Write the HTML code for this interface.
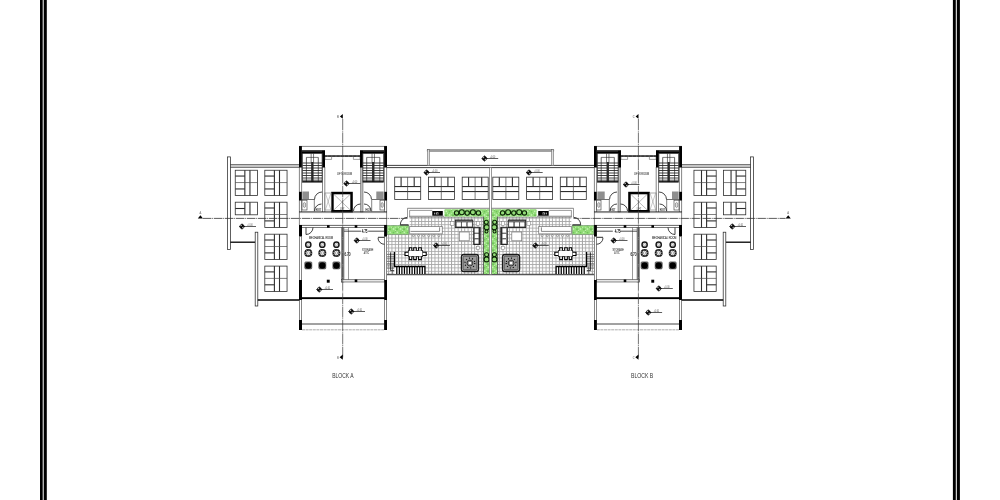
<!DOCTYPE html><html><head><meta charset="utf-8"><style>html,body{margin:0;padding:0;background:#fff}svg{display:block}text{font-family:"Liberation Sans",sans-serif}</style></head><body>
<svg width="1000" height="500" viewBox="0 0 1000 500">
<defs>
<pattern id="tile" x="427.9" y="217.7" width="3.31" height="3.32" patternUnits="userSpaceOnUse"><rect width="3.31" height="3.32" fill="#fff"/><path d="M0,0.45 H3.31 M0.45,0 V3.32" stroke="#a6a6a6" stroke-width="0.95" fill="none"/></pattern>
<pattern id="grn" x="0" y="0" width="7" height="7" patternUnits="userSpaceOnUse"><rect width="7" height="7" fill="#93dc78"/><circle cx="1.5" cy="1.6" r="0.9" fill="#6fc45c"/><circle cx="5" cy="5.2" r="1.0" fill="#6cc058"/><circle cx="5.3" cy="1.4" r="0.8" fill="#c2f4b2"/><circle cx="1.6" cy="5" r="0.9" fill="#bdf2ac"/><circle cx="3.4" cy="3.4" r="0.7" fill="#aeeca0"/><circle cx="3.3" cy="0.3" r="0.45" fill="#58ac48"/><circle cx="0.2" cy="3.4" r="0.45" fill="#58ac48"/><circle cx="3.5" cy="6.6" r="0.45" fill="#eaffe4"/><circle cx="6.7" cy="3.2" r="0.45" fill="#eaffe4"/></pattern>
<filter id="gs" x="0" y="0" width="1000" height="500" filterUnits="userSpaceOnUse" color-interpolation-filters="sRGB"><feColorMatrix type="saturate" values="0"/></filter>
<g id="A"><rect x="227.40" y="156.90" width="3.00" height="92.60" fill="#fff" stroke="#2a2a2a" stroke-width="0.75" />
<line x1="230.4" y1="164.8" x2="299" y2="164.8" stroke="#2a2a2a" stroke-width="0.9" />
<line x1="230.4" y1="167.2" x2="299" y2="167.2" stroke="#2a2a2a" stroke-width="0.9" />
<rect x="235.25" y="170.25" width="22.25" height="25.30" fill="#fff" stroke="#2e2e2e" stroke-width="0.8" /><line x1="244.85" y1="170.25" x2="244.85" y2="195.55" stroke="#2e2e2e" stroke-width="1.1" /><line x1="249.95" y1="170.25" x2="249.95" y2="195.55" stroke="#2e2e2e" stroke-width="1.1" /><line x1="235.25" y1="176.05" x2="244.85" y2="176.05" stroke="#2e2e2e" stroke-width="1.1" /><line x1="235.25" y1="182.55" x2="257.5" y2="182.55" stroke="#4a4a4a" stroke-width="0.7" /><line x1="235.25" y1="188.95" x2="244.85" y2="188.95" stroke="#2e2e2e" stroke-width="1.1" />
<rect x="264.80" y="170.25" width="22.25" height="25.30" fill="#fff" stroke="#2e2e2e" stroke-width="0.8" /><line x1="274.40000000000003" y1="170.25" x2="274.40000000000003" y2="195.55" stroke="#2e2e2e" stroke-width="1.1" /><line x1="279.5" y1="170.25" x2="279.5" y2="195.55" stroke="#2e2e2e" stroke-width="1.1" /><line x1="264.8" y1="176.05" x2="274.40000000000003" y2="176.05" stroke="#2e2e2e" stroke-width="1.1" /><line x1="264.8" y1="182.55" x2="287.05" y2="182.55" stroke="#4a4a4a" stroke-width="0.7" /><line x1="264.8" y1="188.95" x2="274.40000000000003" y2="188.95" stroke="#2e2e2e" stroke-width="1.1" />
<rect x="235.25" y="202.20" width="22.25" height="12.60" fill="#fff" stroke="#2e2e2e" stroke-width="0.8" /><line x1="244.85" y1="202.2" x2="244.85" y2="214.79999999999998" stroke="#2e2e2e" stroke-width="1.1" /><line x1="249.95" y1="202.2" x2="249.95" y2="214.79999999999998" stroke="#2e2e2e" stroke-width="1.1" /><line x1="235.25" y1="208.5" x2="244.85" y2="208.5" stroke="#2e2e2e" stroke-width="1.1" />
<rect x="264.80" y="202.20" width="22.25" height="25.30" fill="#fff" stroke="#2e2e2e" stroke-width="0.8" /><line x1="274.40000000000003" y1="202.2" x2="274.40000000000003" y2="227.5" stroke="#2e2e2e" stroke-width="1.1" /><line x1="279.5" y1="202.2" x2="279.5" y2="227.5" stroke="#2e2e2e" stroke-width="1.1" /><line x1="264.8" y1="208.0" x2="274.40000000000003" y2="208.0" stroke="#2e2e2e" stroke-width="1.1" /><line x1="264.8" y1="214.5" x2="287.05" y2="214.5" stroke="#4a4a4a" stroke-width="0.7" /><line x1="264.8" y1="220.89999999999998" x2="274.40000000000003" y2="220.89999999999998" stroke="#2e2e2e" stroke-width="1.1" />
<rect x="264.80" y="234.20" width="22.25" height="25.30" fill="#fff" stroke="#2e2e2e" stroke-width="0.8" /><line x1="274.40000000000003" y1="234.2" x2="274.40000000000003" y2="259.5" stroke="#2e2e2e" stroke-width="1.1" /><line x1="279.5" y1="234.2" x2="279.5" y2="259.5" stroke="#2e2e2e" stroke-width="1.1" /><line x1="264.8" y1="240.0" x2="274.40000000000003" y2="240.0" stroke="#2e2e2e" stroke-width="1.1" /><line x1="264.8" y1="246.5" x2="287.05" y2="246.5" stroke="#4a4a4a" stroke-width="0.7" /><line x1="264.8" y1="252.89999999999998" x2="274.40000000000003" y2="252.89999999999998" stroke="#2e2e2e" stroke-width="1.1" />
<rect x="264.80" y="266.10" width="22.25" height="25.30" fill="#fff" stroke="#2e2e2e" stroke-width="0.8" /><line x1="274.40000000000003" y1="266.1" x2="274.40000000000003" y2="291.40000000000003" stroke="#2e2e2e" stroke-width="1.1" /><line x1="279.5" y1="266.1" x2="279.5" y2="291.40000000000003" stroke="#2e2e2e" stroke-width="1.1" /><line x1="264.8" y1="271.90000000000003" x2="274.40000000000003" y2="271.90000000000003" stroke="#2e2e2e" stroke-width="1.1" /><line x1="264.8" y1="278.40000000000003" x2="287.05" y2="278.40000000000003" stroke="#4a4a4a" stroke-width="0.7" /><line x1="264.8" y1="284.8" x2="274.40000000000003" y2="284.8" stroke="#2e2e2e" stroke-width="1.1" />
<line x1="230.4" y1="242.2" x2="255.3" y2="242.2" stroke="#000" stroke-width="1.3" />
<rect x="255.20" y="232.20" width="2.60" height="73.80" fill="#fff" stroke="#2a2a2a" stroke-width="0.75" />
<line x1="257.8" y1="300" x2="299.5" y2="300" stroke="#000" stroke-width="1.4" />
<line x1="299" y1="146.4" x2="387" y2="146.4" stroke="#333" stroke-width="0.6" />
<line x1="299.4" y1="167" x2="299.4" y2="212" stroke="#333" stroke-width="0.6" />
<line x1="301.6" y1="167" x2="301.6" y2="212" stroke="#333" stroke-width="0.6" />
<line x1="322.5" y1="167" x2="322.5" y2="212" stroke="#333" stroke-width="0.6" />
<line x1="324.8" y1="167" x2="324.8" y2="212" stroke="#333" stroke-width="0.6" />
<line x1="384.4" y1="167" x2="384.4" y2="212" stroke="#333" stroke-width="0.6" />
<line x1="386.6" y1="167" x2="386.6" y2="212" stroke="#333" stroke-width="0.6" />
<rect x="360.50" y="167.00" width="2.50" height="45.00" fill="#bbb" stroke="#555" stroke-width="0.5" />
<rect x="299.00" y="146.10" width="2.90" height="21.40" fill="#000" stroke="none" stroke-width="0.6" />
<rect x="384.10" y="146.10" width="2.90" height="21.40" fill="#000" stroke="none" stroke-width="0.6" />
<rect x="301.80" y="150.20" width="23.20" height="3.30" fill="#000" stroke="none" stroke-width="0.6" />
<rect x="301.90" y="150.20" width="20.20" height="1.30" fill="#4a4a4a" stroke="none" stroke-width="0.6" />
<rect x="360.00" y="150.20" width="24.20" height="3.30" fill="#000" stroke="none" stroke-width="0.6" />
<rect x="362.90" y="150.20" width="21.20" height="1.30" fill="#4a4a4a" stroke="none" stroke-width="0.6" />
<rect x="322.10" y="151.00" width="2.90" height="16.50" fill="#000" stroke="none" stroke-width="0.6" />
<rect x="360.00" y="151.00" width="2.90" height="16.50" fill="#000" stroke="none" stroke-width="0.6" />
<rect x="299.00" y="191.80" width="2.70" height="8.70" fill="#000" stroke="none" stroke-width="0.6" />
<rect x="384.40" y="191.80" width="2.60" height="8.70" fill="#000" stroke="none" stroke-width="0.6" />
<rect x="302.60" y="153.50" width="19.50" height="28.70" fill="#fff" stroke="#222" stroke-width="0.7" /><line x1="302.6" y1="163" x2="322.1" y2="163" stroke="#111" stroke-width="0.8" /><line x1="302.6" y1="165.5" x2="322.1" y2="165.5" stroke="#111" stroke-width="0.8" /><line x1="302.6" y1="168" x2="322.1" y2="168" stroke="#111" stroke-width="0.8" /><line x1="302.6" y1="170.5" x2="322.1" y2="170.5" stroke="#111" stroke-width="0.8" /><line x1="302.6" y1="173" x2="322.1" y2="173" stroke="#111" stroke-width="0.8" /><line x1="302.6" y1="175.5" x2="322.1" y2="175.5" stroke="#111" stroke-width="0.8" /><line x1="302.6" y1="178" x2="322.1" y2="178" stroke="#111" stroke-width="0.8" /><line x1="302.6" y1="180.2" x2="322.1" y2="180.2" stroke="#111" stroke-width="0.8" /><line x1="306.40000000000003" y1="157.4" x2="318.3" y2="157.4" stroke="#222" stroke-width="0.6" /><line x1="306.40000000000003" y1="157.4" x2="306.40000000000003" y2="182" stroke="#222" stroke-width="0.7" /><line x1="318.3" y1="157.4" x2="318.3" y2="182" stroke="#222" stroke-width="0.7" /><line x1="311.15000000000003" y1="153.5" x2="311.15000000000003" y2="162.5" stroke="#222" stroke-width="0.6" /><line x1="313.55" y1="153.5" x2="313.55" y2="162.5" stroke="#222" stroke-width="0.6" /><rect x="311.15" y="162.00" width="2.40" height="20.00" fill="#2a2a2a" stroke="none" stroke-width="0.6" /><line x1="302.6" y1="181.6" x2="322.1" y2="181.6" stroke="#111" stroke-width="1.0" />
<rect x="362.90" y="153.50" width="20.70" height="28.70" fill="#fff" stroke="#222" stroke-width="0.7" /><line x1="362.9" y1="163" x2="383.6" y2="163" stroke="#111" stroke-width="0.8" /><line x1="362.9" y1="165.5" x2="383.6" y2="165.5" stroke="#111" stroke-width="0.8" /><line x1="362.9" y1="168" x2="383.6" y2="168" stroke="#111" stroke-width="0.8" /><line x1="362.9" y1="170.5" x2="383.6" y2="170.5" stroke="#111" stroke-width="0.8" /><line x1="362.9" y1="173" x2="383.6" y2="173" stroke="#111" stroke-width="0.8" /><line x1="362.9" y1="175.5" x2="383.6" y2="175.5" stroke="#111" stroke-width="0.8" /><line x1="362.9" y1="178" x2="383.6" y2="178" stroke="#111" stroke-width="0.8" /><line x1="362.9" y1="180.2" x2="383.6" y2="180.2" stroke="#111" stroke-width="0.8" /><line x1="366.7" y1="157.4" x2="379.8" y2="157.4" stroke="#222" stroke-width="0.6" /><line x1="366.7" y1="157.4" x2="366.7" y2="182" stroke="#222" stroke-width="0.7" /><line x1="379.8" y1="157.4" x2="379.8" y2="182" stroke="#222" stroke-width="0.7" /><line x1="372.05" y1="153.5" x2="372.05" y2="162.5" stroke="#222" stroke-width="0.6" /><line x1="374.45" y1="153.5" x2="374.45" y2="162.5" stroke="#222" stroke-width="0.6" /><rect x="372.05" y="162.00" width="2.40" height="20.00" fill="#2a2a2a" stroke="none" stroke-width="0.6" /><line x1="362.9" y1="181.6" x2="383.6" y2="181.6" stroke="#111" stroke-width="1.0" />
<rect x="325.00" y="155.20" width="35.00" height="1.70" fill="#2a2a2a" stroke="none" stroke-width="0.6" />
<rect x="327.00" y="155.70" width="1.20" height="0.60" fill="#999" stroke="none" stroke-width="0.6" />
<rect x="331.20" y="155.70" width="1.20" height="0.60" fill="#999" stroke="none" stroke-width="0.6" />
<rect x="335.40" y="155.70" width="1.20" height="0.60" fill="#999" stroke="none" stroke-width="0.6" />
<rect x="339.60" y="155.70" width="1.20" height="0.60" fill="#999" stroke="none" stroke-width="0.6" />
<rect x="343.80" y="155.70" width="1.20" height="0.60" fill="#999" stroke="none" stroke-width="0.6" />
<rect x="348.00" y="155.70" width="1.20" height="0.60" fill="#999" stroke="none" stroke-width="0.6" />
<rect x="352.20" y="155.70" width="1.20" height="0.60" fill="#999" stroke="none" stroke-width="0.6" />
<rect x="356.40" y="155.70" width="1.20" height="0.60" fill="#999" stroke="none" stroke-width="0.6" />
<path d="M325,156.9 V159.4 H331.6 V156.9" stroke="#444" stroke-width="0.5" fill="none"/>
<path d="M353.4,156.9 V159.4 H360 V156.9" stroke="#444" stroke-width="0.5" fill="none"/>
<rect x="332.45" y="193.05" width="19.10" height="18.20" fill="#fff" stroke="#000" stroke-width="2.5" />
<line x1="334" y1="194.5" x2="350" y2="209.8" stroke="#666" stroke-width="0.45" />
<line x1="350" y1="194.5" x2="334" y2="209.8" stroke="#666" stroke-width="0.45" />
<rect x="325.00" y="193.00" width="6.20" height="17.00" fill="#fff" stroke="#555" stroke-width="0.5" />
<line x1="325.5" y1="193.5" x2="330.8" y2="209.5" stroke="#777" stroke-width="0.4" />
<line x1="330.8" y1="193.5" x2="325.5" y2="209.5" stroke="#777" stroke-width="0.4" />
<line x1="299" y1="211.7" x2="387" y2="211.7" stroke="#222" stroke-width="0.7" />
<line x1="299" y1="212.6" x2="387" y2="212.6" stroke="#444" stroke-width="0.5" />
<rect x="302.40" y="191.50" width="6.60" height="7.50" fill="#8f8f8f" stroke="none" stroke-width="0.6" />
<rect x="376.30" y="191.50" width="7.30" height="7.50" fill="#8f8f8f" stroke="none" stroke-width="0.6" />
<rect x="302.00" y="200.20" width="5.00" height="9.80" fill="#fff" stroke="#333" stroke-width="0.6" />
<ellipse cx="304.4" cy="205" rx="1.3" ry="2.6" fill="#ddd" stroke="#555" stroke-width="0.5"/>
<rect x="380.00" y="200.20" width="4.30" height="9.80" fill="#fff" stroke="#333" stroke-width="0.6" />
<ellipse cx="382.2" cy="205" rx="1.2" ry="2.6" fill="#ddd" stroke="#555" stroke-width="0.5"/>
<line x1="302" y1="199.5" x2="314.5" y2="199.5" stroke="#333" stroke-width="0.7" />
<line x1="372" y1="199.5" x2="384" y2="199.5" stroke="#333" stroke-width="0.7" />
<line x1="314.3" y1="199.5" x2="314.3" y2="211.5" stroke="#333" stroke-width="0.6" />
<line x1="371.7" y1="199.5" x2="371.7" y2="211.5" stroke="#333" stroke-width="0.6" />
<path d="M322,192 A7.5,7.5 0 0 0 314.5,199.5" stroke="#222" stroke-width="0.85" fill="none"/>
<path d="M321.5,204 A7,7 0 0 0 314.5,211" stroke="#222" stroke-width="0.85" fill="none"/>
<path d="M360.5,204 A7,7 0 0 0 353.5,211" stroke="#222" stroke-width="0.85" fill="none"/>
<path d="M364,192 A7.5,7.5 0 0 1 371.5,199.5" stroke="#222" stroke-width="0.85" fill="none"/>
<path d="M364,204 A7,7 0 0 1 371,211" stroke="#222" stroke-width="0.85" fill="none"/>
<line x1="299.4" y1="212" x2="299.4" y2="225" stroke="#333" stroke-width="0.6" />
<line x1="386.6" y1="212" x2="386.6" y2="225" stroke="#333" stroke-width="0.6" />
<line x1="299" y1="225.4" x2="387" y2="225.4" stroke="#222" stroke-width="0.7" />
<line x1="299" y1="227.5" x2="387" y2="227.5" stroke="#222" stroke-width="0.6" />
<rect x="327.00" y="225.20" width="2.60" height="2.50" fill="#000" stroke="none" stroke-width="0.6" />
<rect x="354.70" y="225.20" width="2.60" height="2.50" fill="#000" stroke="none" stroke-width="0.6" />
<rect x="299.00" y="225.00" width="3.00" height="11.50" fill="#000" stroke="none" stroke-width="0.6" />
<rect x="384.10" y="225.00" width="2.90" height="11.60" fill="#000" stroke="none" stroke-width="0.6" />
<line x1="378" y1="237.3" x2="384.5" y2="237.3" stroke="#111" stroke-width="0.9" />
<path d="M378,237.8 A6.5,6.5 0 0 0 384.5,244.3" stroke="#222" stroke-width="0.85" fill="none"/>
<path d="M306,227.5 V234.5 A7,7 0 0 0 313,227.5" stroke="#222" stroke-width="0.85" fill="none"/>
<line x1="299.5" y1="236.5" x2="299.5" y2="280" stroke="#333" stroke-width="0.6" />
<line x1="299.5" y1="300" x2="299.5" y2="320" stroke="#333" stroke-width="0.6" />
<line x1="301.5" y1="236.5" x2="301.5" y2="280" stroke="#333" stroke-width="0.6" />
<line x1="301.5" y1="300" x2="301.5" y2="320" stroke="#333" stroke-width="0.6" />
<line x1="384.5" y1="236.5" x2="384.5" y2="280" stroke="#333" stroke-width="0.6" />
<line x1="384.5" y1="300" x2="384.5" y2="320" stroke="#333" stroke-width="0.6" />
<line x1="386.5" y1="236.5" x2="386.5" y2="280" stroke="#333" stroke-width="0.6" />
<line x1="386.5" y1="300" x2="386.5" y2="320" stroke="#333" stroke-width="0.6" />
<circle cx="308.3" cy="244.7" r="2.6" fill="#fff" stroke="#1a1a1a" stroke-width="1.5"/>
<circle cx="308.3" cy="244.7" r="1.1" fill="#fff" stroke="#555" stroke-width="0.4"/>
<circle cx="308.3" cy="253" r="3.1" fill="#fff" stroke="#1a1a1a" stroke-width="1.8"/>
<circle cx="308.3" cy="253" r="3.1" fill="none" stroke="#fff" stroke-width="0.7" stroke-dasharray="0.7 1.75"/>
<circle cx="308.3" cy="253" r="1.3" fill="#fff" stroke="#333" stroke-width="0.4"/>
<rect x="304.80" y="261.90" width="7.00" height="7.00" fill="#8a8a8a" stroke="#222" stroke-width="0.6" rx="1"/>
<circle cx="308.3" cy="265.4" r="3.25" fill="#000" stroke="none" stroke-width="0.6"/>
<circle cx="322.3" cy="244.7" r="2.6" fill="#fff" stroke="#1a1a1a" stroke-width="1.5"/>
<circle cx="322.3" cy="244.7" r="1.1" fill="#fff" stroke="#555" stroke-width="0.4"/>
<circle cx="322.3" cy="253" r="3.1" fill="#fff" stroke="#1a1a1a" stroke-width="1.8"/>
<circle cx="322.3" cy="253" r="3.1" fill="none" stroke="#fff" stroke-width="0.7" stroke-dasharray="0.7 1.75"/>
<circle cx="322.3" cy="253" r="1.3" fill="#fff" stroke="#333" stroke-width="0.4"/>
<rect x="318.80" y="261.90" width="7.00" height="7.00" fill="#8a8a8a" stroke="#222" stroke-width="0.6" rx="1"/>
<circle cx="322.3" cy="265.4" r="3.25" fill="#000" stroke="none" stroke-width="0.6"/>
<circle cx="336.4" cy="244.7" r="2.6" fill="#fff" stroke="#1a1a1a" stroke-width="1.5"/>
<circle cx="336.4" cy="244.7" r="1.1" fill="#fff" stroke="#555" stroke-width="0.4"/>
<circle cx="336.4" cy="253" r="3.1" fill="#fff" stroke="#1a1a1a" stroke-width="1.8"/>
<circle cx="336.4" cy="253" r="3.1" fill="none" stroke="#fff" stroke-width="0.7" stroke-dasharray="0.7 1.75"/>
<circle cx="336.4" cy="253" r="1.3" fill="#fff" stroke="#333" stroke-width="0.4"/>
<rect x="332.90" y="261.90" width="7.00" height="7.00" fill="#8a8a8a" stroke="#222" stroke-width="0.6" rx="1"/>
<circle cx="336.4" cy="265.4" r="3.25" fill="#000" stroke="none" stroke-width="0.6"/>
<rect x="341.50" y="227.50" width="2.50" height="54.50" fill="#9a9a9a" stroke="#555" stroke-width="0.5" />
<line x1="342.75" y1="227.5" x2="342.75" y2="282" stroke="#666" stroke-width="0.5" />
<line x1="348.5" y1="227.5" x2="348.5" y2="280" stroke="#555" stroke-width="0.6" />
<line x1="344" y1="231.2" x2="361" y2="231.2" stroke="#222" stroke-width="0.8" />
<line x1="368.2" y1="231.2" x2="384" y2="231.2" stroke="#222" stroke-width="0.8" />
<line x1="344" y1="229.5" x2="348.5" y2="229.5" stroke="#777" stroke-width="0.4" />
<rect x="341.50" y="279.60" width="43.00" height="2.40" fill="#e6e6e6" stroke="#444" stroke-width="0.6" />
<rect x="354.70" y="279.50" width="2.60" height="2.60" fill="#000" stroke="none" stroke-width="0.6" />
<rect x="326.80" y="279.70" width="2.90" height="3.00" fill="#000" stroke="none" stroke-width="0.6" />
<rect x="299.00" y="280.00" width="3.00" height="20.00" fill="#000" stroke="none" stroke-width="0.6" />
<rect x="384.20" y="280.00" width="2.80" height="20.00" fill="#000" stroke="none" stroke-width="0.6" />
<rect x="299.00" y="297.20" width="88.00" height="1.90" fill="#000" stroke="none" stroke-width="0.6" />
<rect x="299.00" y="320.00" width="3.00" height="10.00" fill="#000" stroke="none" stroke-width="0.6" />
<rect x="384.10" y="320.00" width="2.90" height="10.00" fill="#000" stroke="none" stroke-width="0.6" />
<line x1="302" y1="324" x2="384" y2="324" stroke="#444" stroke-width="1.0" />
<line x1="302" y1="329.8" x2="384" y2="329.8" stroke="#999" stroke-width="0.8" stroke-dasharray="3 0.6"/>
<line x1="387" y1="165.4" x2="490.5" y2="165.4" stroke="#2a2a2a" stroke-width="0.9" />
<line x1="387" y1="167.6" x2="490.5" y2="167.6" stroke="#2a2a2a" stroke-width="0.9" />
<rect x="427.35" y="149.70" width="63.25" height="1.60" fill="#b5b5b5" stroke="none" stroke-width="0.6" />
<line x1="427.35" y1="149.7" x2="490.6" y2="149.7" stroke="#555" stroke-width="0.6" />
<line x1="427.35" y1="151.3" x2="490.6" y2="151.3" stroke="#555" stroke-width="0.6" />
<line x1="427.35" y1="149.7" x2="427.35" y2="151.3" stroke="#555" stroke-width="0.6" />
<rect x="427.35" y="149.70" width="2.15" height="15.80" fill="#ddd" stroke="#555" stroke-width="0.5" />
<rect x="394.70" y="177.15" width="26.00" height="22.30" fill="#fff" stroke="#2e2e2e" stroke-width="0.8" /><line x1="394.7" y1="186.55" x2="420.7" y2="186.55" stroke="#2e2e2e" stroke-width="1.1" /><line x1="394.7" y1="191.55" x2="420.7" y2="191.55" stroke="#2e2e2e" stroke-width="1.1" /><line x1="401.09999999999997" y1="177.15" x2="401.09999999999997" y2="186.55" stroke="#2e2e2e" stroke-width="1.1" /><line x1="407.59999999999997" y1="177.15" x2="407.59999999999997" y2="199.45000000000002" stroke="#444" stroke-width="0.7" /><line x1="414.2" y1="177.15" x2="414.2" y2="186.55" stroke="#2e2e2e" stroke-width="1.1" />
<rect x="428.40" y="177.15" width="26.00" height="22.30" fill="#fff" stroke="#2e2e2e" stroke-width="0.8" /><line x1="428.4" y1="186.55" x2="454.4" y2="186.55" stroke="#2e2e2e" stroke-width="1.1" /><line x1="428.4" y1="191.55" x2="454.4" y2="191.55" stroke="#2e2e2e" stroke-width="1.1" /><line x1="434.79999999999995" y1="177.15" x2="434.79999999999995" y2="186.55" stroke="#2e2e2e" stroke-width="1.1" /><line x1="441.29999999999995" y1="177.15" x2="441.29999999999995" y2="199.45000000000002" stroke="#444" stroke-width="0.7" /><line x1="447.9" y1="177.15" x2="447.9" y2="186.55" stroke="#2e2e2e" stroke-width="1.1" />
<rect x="462.20" y="177.15" width="26.00" height="22.30" fill="#fff" stroke="#2e2e2e" stroke-width="0.8" /><line x1="462.2" y1="186.55" x2="488.2" y2="186.55" stroke="#2e2e2e" stroke-width="1.1" /><line x1="462.2" y1="191.55" x2="488.2" y2="191.55" stroke="#2e2e2e" stroke-width="1.1" /><line x1="468.59999999999997" y1="177.15" x2="468.59999999999997" y2="186.55" stroke="#2e2e2e" stroke-width="1.1" /><line x1="475.09999999999997" y1="177.15" x2="475.09999999999997" y2="199.45000000000002" stroke="#444" stroke-width="0.7" /><line x1="481.7" y1="177.15" x2="481.7" y2="186.55" stroke="#2e2e2e" stroke-width="1.1" />
<path d="M409.7,217 H483.5 V274.2 H387 V234 H409.7 Z" fill="url(#tile)"/>
<line x1="409.7" y1="217.1" x2="483.5" y2="217.1" stroke="#666" stroke-width="0.7" />
<line x1="387" y1="274.5" x2="490.5" y2="274.5" stroke="#555" stroke-width="1.3" />
<line x1="407.5" y1="208.3" x2="490.5" y2="208.3" stroke="#555" stroke-width="0.7" />
<line x1="407.5" y1="208.3" x2="407.5" y2="217.3" stroke="#555" stroke-width="0.6" />
<line x1="409.6" y1="210.4" x2="409.6" y2="217.3" stroke="#555" stroke-width="0.6" />
<line x1="409.6" y1="210.4" x2="432.3" y2="210.4" stroke="#555" stroke-width="0.6" />
<line x1="409.6" y1="216.2" x2="444" y2="216.2" stroke="#555" stroke-width="0.6" />
<rect x="432.30" y="211.00" width="10.50" height="4.70" fill="#000" stroke="none" stroke-width="0.6" />
<rect x="434.30" y="212.60" width="0.90" height="1.80" fill="#ddd" stroke="none" stroke-width="0.6" />
<rect x="436.20" y="212.40" width="2.20" height="2.20" fill="#ccc" stroke="none" stroke-width="0.6" />
<rect x="437.00" y="213.20" width="0.80" height="1.40" fill="#000" stroke="none" stroke-width="0.6" />
<rect x="444.40" y="209.20" width="46.20" height="7.40" fill="url(#grn)" stroke="none" stroke-width="0.6" />
<rect x="483.60" y="216.40" width="6.00" height="57.60" fill="url(#grn)" stroke="none" stroke-width="0.6" />
<line x1="483.4" y1="216.6" x2="483.4" y2="274" stroke="#333" stroke-width="0.8" />
<rect x="387.20" y="225.40" width="21.60" height="9.00" fill="url(#grn)" stroke="#6f8f6c" stroke-width="0.6" />
<circle cx="456.6" cy="212.9" r="2.2" fill="#93dc78" stroke="#0c2407" stroke-width="1.1"/>
<circle cx="461.8" cy="212.3" r="2.5" fill="#93dc78" stroke="#0c2407" stroke-width="1.1"/>
<circle cx="467.2" cy="213" r="2.2" fill="#93dc78" stroke="#0c2407" stroke-width="1.1"/>
<circle cx="472.9" cy="212.2" r="2.5" fill="#93dc78" stroke="#0c2407" stroke-width="1.1"/>
<circle cx="478.4" cy="212.9" r="2.2" fill="#93dc78" stroke="#0c2407" stroke-width="1.1"/>
<path d="M458.6,213.4 L459.6,213.4 M464.2,213.4 L465.2,213.4 M469.4,213.4 L470.5,213.4 M475.3,213.4 L476.3,213.4" stroke="#0c2407" stroke-width="0.9" fill="none"/>
<circle cx="486.3" cy="222.3" r="2.0" fill="#93dc78" stroke="#0c2407" stroke-width="1.1"/>
<circle cx="486.7" cy="227.2" r="2.6" fill="#93dc78" stroke="#0c2407" stroke-width="1.1"/>
<circle cx="486.5" cy="231.5" r="1.5" fill="#93dc78" stroke="#0c2407" stroke-width="1.1"/>
<circle cx="486.6" cy="254.8" r="2.0" fill="#93dc78" stroke="#0c2407" stroke-width="1.1"/>
<circle cx="486.6" cy="259.4" r="2.5" fill="#93dc78" stroke="#0c2407" stroke-width="1.1"/>
<path d="M407.5,217.3 A7.5,7.5 0 0 0 400.3,224.8" stroke="#222" stroke-width="0.85" fill="none"/>
<line x1="400.3" y1="224.9" x2="408.6" y2="224.9" stroke="#000" stroke-width="1.0" />
<rect x="409.75" y="226.40" width="32.45" height="7.50" fill="#fff" stroke="#555" stroke-width="0.6" />
<path d="M410.5,231.4 H439.6 V227.3" stroke="#555" stroke-width="0.7" fill="none"/>
<circle cx="413.4" cy="235.7" r="1.0" fill="#fff" stroke="#555" stroke-width="0.5"/>
<circle cx="418.5" cy="235.7" r="1.0" fill="#fff" stroke="#555" stroke-width="0.5"/>
<circle cx="423.5" cy="235.7" r="1.0" fill="#fff" stroke="#555" stroke-width="0.5"/>
<circle cx="428.7" cy="235.7" r="1.0" fill="#fff" stroke="#555" stroke-width="0.5"/>
<circle cx="433.7" cy="235.7" r="1.0" fill="#fff" stroke="#555" stroke-width="0.5"/>
<circle cx="438.9" cy="235.7" r="1.0" fill="#fff" stroke="#555" stroke-width="0.5"/>
<rect x="455.30" y="220.00" width="17.50" height="7.50" fill="#c4c4c4" stroke="#1a1a1a" stroke-width="0.9" />
<line x1="455.3" y1="220.9" x2="472.8" y2="220.9" stroke="#222" stroke-width="0.9" />
<rect x="456.20" y="222.00" width="5.00" height="4.90" fill="#fff" stroke="#222" stroke-width="0.5" />
<rect x="461.70" y="222.00" width="5.00" height="4.90" fill="#fff" stroke="#222" stroke-width="0.5" />
<rect x="467.20" y="222.00" width="5.00" height="4.90" fill="#fff" stroke="#222" stroke-width="0.5" />
<rect x="450.70" y="221.50" width="3.30" height="3.80" fill="#fff" stroke="#777" stroke-width="0.5" />
<rect x="476.30" y="221.50" width="3.30" height="3.80" fill="#fff" stroke="#777" stroke-width="0.5" />
<rect x="473.70" y="227.30" width="6.50" height="17.20" fill="#c4c4c4" stroke="#1a1a1a" stroke-width="0.9" />
<line x1="479.5" y1="227.3" x2="479.5" y2="244.5" stroke="#222" stroke-width="0.9" />
<rect x="474.30" y="228.00" width="4.60" height="5.00" fill="#fff" stroke="#222" stroke-width="0.5" />
<rect x="474.30" y="233.50" width="4.60" height="5.00" fill="#fff" stroke="#222" stroke-width="0.5" />
<rect x="474.30" y="239.00" width="4.60" height="5.00" fill="#fff" stroke="#222" stroke-width="0.5" />
<rect x="459.30" y="232.00" width="9.90" height="8.80" fill="#fff" stroke="#777" stroke-width="0.7" />
<rect x="476.30" y="246.30" width="3.30" height="3.20" fill="#fff" stroke="#777" stroke-width="0.5" />
<rect x="408.30" y="250.60" width="14.40" height="5.95" fill="#fff" stroke="#111" stroke-width="0.8" />
<path d="M409.3,250.6 V247.8 H411.8 V250.6" stroke="#000" stroke-width="1.1" fill="#fff"/>
<path d="M409.3,256.55 V259.6 H411.8 V256.55" stroke="#000" stroke-width="1.1" fill="#fff"/>
<path d="M413.7,250.6 V247.8 H416.3 V250.6" stroke="#000" stroke-width="1.1" fill="#fff"/>
<path d="M413.7,256.55 V259.6 H416.3 V256.55" stroke="#000" stroke-width="1.1" fill="#fff"/>
<path d="M418.6,250.6 V247.8 H421.3 V250.6" stroke="#000" stroke-width="1.1" fill="#fff"/>
<path d="M418.6,256.55 V259.6 H421.3 V256.55" stroke="#000" stroke-width="1.1" fill="#fff"/>
<path d="M408.3,252.2 H405 V255.5 H408.3" stroke="#000" stroke-width="1.1" fill="#fff"/>
<path d="M422.7,252.2 H426.2 V255.5 H422.7" stroke="#000" stroke-width="1.1" fill="#fff"/>
<line x1="387" y1="254.3" x2="394.4" y2="254.3" stroke="#555" stroke-width="0.6" />
<line x1="387" y1="256.6" x2="394.4" y2="256.6" stroke="#555" stroke-width="0.6" />
<line x1="387" y1="258.8" x2="394.4" y2="258.8" stroke="#555" stroke-width="0.6" />
<line x1="387" y1="261.3" x2="394.4" y2="261.3" stroke="#555" stroke-width="0.6" />
<line x1="387" y1="263.6" x2="394.4" y2="263.6" stroke="#555" stroke-width="0.6" />
<line x1="387" y1="265.9" x2="394.4" y2="265.9" stroke="#555" stroke-width="0.6" />
<line x1="387" y1="268.2" x2="394.4" y2="268.2" stroke="#555" stroke-width="0.6" />
<rect x="394.40" y="266.50" width="30.50" height="7.40" fill="#fff" stroke="none" stroke-width="0.6" />
<line x1="396.8" y1="266.5" x2="396.8" y2="273.9" stroke="#000" stroke-width="1.25" />
<line x1="399.35" y1="266.5" x2="399.35" y2="273.9" stroke="#000" stroke-width="1.25" />
<line x1="401.90000000000003" y1="266.5" x2="401.90000000000003" y2="273.9" stroke="#000" stroke-width="1.25" />
<line x1="404.45000000000005" y1="266.5" x2="404.45000000000005" y2="273.9" stroke="#000" stroke-width="1.25" />
<line x1="407.00000000000006" y1="266.5" x2="407.00000000000006" y2="273.9" stroke="#000" stroke-width="1.25" />
<line x1="409.55000000000007" y1="266.5" x2="409.55000000000007" y2="273.9" stroke="#000" stroke-width="1.25" />
<line x1="412.1000000000001" y1="266.5" x2="412.1000000000001" y2="273.9" stroke="#000" stroke-width="1.25" />
<line x1="414.6500000000001" y1="266.5" x2="414.6500000000001" y2="273.9" stroke="#000" stroke-width="1.25" />
<line x1="417.2000000000001" y1="266.5" x2="417.2000000000001" y2="273.9" stroke="#000" stroke-width="1.25" />
<line x1="419.7500000000001" y1="266.5" x2="419.7500000000001" y2="273.9" stroke="#000" stroke-width="1.25" />
<line x1="422.3000000000001" y1="266.5" x2="422.3000000000001" y2="273.9" stroke="#000" stroke-width="1.25" />
<path d="M394.4,252.1 V266.5 H424.9 V273.9" stroke="#000" stroke-width="1.3" fill="none"/>
<path d="M390.55,252.3 V270.6 H394.2" stroke="#111" stroke-width="0.8" fill="none"/>
<line x1="392.6" y1="266.5" x2="392.6" y2="273.9" stroke="#444" stroke-width="0.6" />
<rect x="461.40" y="254.50" width="17.10" height="17.00" fill="#c2c2c2" stroke="#1a1a1a" stroke-width="1.3" rx="2.2"/>
<rect x="463.00" y="256.10" width="13.90" height="13.80" fill="#999" stroke="#333" stroke-width="0.7" rx="1.5"/>
<circle cx="469.9" cy="263.1" r="4.9" fill="none" stroke="#000" stroke-width="1.2" stroke-dasharray="1.0 2.08"/>
<circle cx="469.9" cy="263.1" r="2.9" fill="#888" stroke="#222" stroke-width="0.8"/>
<rect x="468.70" y="262.00" width="2.40" height="2.20" fill="#fff" stroke="none" stroke-width="0.6" /></g>
</defs>
<rect width="1000" height="500" fill="#fff"/>
<g>
<rect x="40.00" y="0.00" width="2.70" height="500.00" fill="#000" stroke="none" stroke-width="0.6" />
<rect x="43.70" y="0.00" width="3.10" height="500.00" fill="#000" stroke="none" stroke-width="0.6" />
<rect x="952.90" y="0.00" width="2.90" height="500.00" fill="#000" stroke="none" stroke-width="0.6" />
<rect x="956.80" y="0.00" width="3.10" height="500.00" fill="#000" stroke="none" stroke-width="0.6" />
<use href="#A"/>
<g transform="translate(981,0) scale(-1,1)"><use href="#A"/></g>
<rect x="489.40" y="167.50" width="2.10" height="107.00" fill="#fff" stroke="#555" stroke-width="0.6" />
<line x1="203" y1="218.4" x2="407.5" y2="218.4" stroke="#333" stroke-width="0.8" stroke-dasharray="8.4 0.8 1 0.8"/>
<line x1="573.5" y1="218.4" x2="785.5" y2="218.4" stroke="#333" stroke-width="0.8" stroke-dasharray="8.4 0.8 1 0.8" stroke-dashoffset="3"/>
<line x1="342.7" y1="119" x2="342.7" y2="357.5" stroke="#3a3a3a" stroke-width="0.7" stroke-dasharray="11 0.7 1 0.7"/>
<line x1="638.4" y1="119" x2="638.4" y2="357.5" stroke="#3a3a3a" stroke-width="0.7" stroke-dasharray="11 0.7 1 0.7"/>
<path d="M197.8,218.6 L203,218.6 L200.4,215.2 Z" fill="#000"/>
<path d="M785.6,218.6 L790.8,218.6 L788.2,215.2 Z" fill="#000"/>
<path d="M342.8,114 L342.8,118.8 L339.90000000000003,116.4 Z" fill="#000"/>
<path d="M342.8,354.6 L342.8,359.8 L339.6,357.2 Z" fill="#000"/>
<path d="M638.5,114 L638.5,118.8 L635.6,116.4 Z" fill="#000"/>
<path d="M638.5,354.6 L638.5,359.8 L635.3,357.2 Z" fill="#000"/>
<g filter="url(#gs)">
<line x1="346.5" y1="183.5" x2="360.5" y2="183.5" stroke="#333" stroke-width="0.8" /><circle cx="346.5" cy="183.5" r="2.1" fill="#fff" stroke="#000" stroke-width="0.7"/><path d="M346.5,183.5 L346.5,181.4 A2.1,2.1 0 0 1 348.6,183.5 Z" fill="#000"/><path d="M346.5,183.5 L346.5,185.6 A2.1,2.1 0 0 1 344.4,183.5 Z" fill="#000"/><line x1="343.5" y1="183.5" x2="349.5" y2="183.5" stroke="#000" stroke-width="0.7" /><line x1="346.5" y1="180.5" x2="346.5" y2="186.5" stroke="#000" stroke-width="0.7" /><text x="351.7" y="182.7" font-size="2.7" fill="#555" textLength="5.6" lengthAdjust="spacingAndGlyphs">+0.00</text>
<line x1="626" y1="184.5" x2="639.5" y2="184.5" stroke="#333" stroke-width="0.8" /><circle cx="626" cy="184.5" r="2.1" fill="#fff" stroke="#000" stroke-width="0.7"/><path d="M626,184.5 L626,182.4 A2.1,2.1 0 0 1 628.1,184.5 Z" fill="#000"/><path d="M626,184.5 L626,186.6 A2.1,2.1 0 0 1 623.9,184.5 Z" fill="#000"/><line x1="623" y1="184.5" x2="629" y2="184.5" stroke="#000" stroke-width="0.7" /><line x1="626" y1="181.5" x2="626" y2="187.5" stroke="#000" stroke-width="0.7" /><text x="631.2" y="183.7" font-size="2.7" fill="#555" textLength="5.6" lengthAdjust="spacingAndGlyphs">+0.00</text>
<line x1="356.8" y1="240.5" x2="370.5" y2="240.5" stroke="#333" stroke-width="0.8" /><circle cx="356.8" cy="240.5" r="2.1" fill="#fff" stroke="#000" stroke-width="0.7"/><path d="M356.8,240.5 L356.8,238.4 A2.1,2.1 0 0 1 358.90000000000003,240.5 Z" fill="#000"/><path d="M356.8,240.5 L356.8,242.6 A2.1,2.1 0 0 1 354.7,240.5 Z" fill="#000"/><line x1="353.8" y1="240.5" x2="359.8" y2="240.5" stroke="#000" stroke-width="0.7" /><line x1="356.8" y1="237.5" x2="356.8" y2="243.5" stroke="#000" stroke-width="0.7" /><text x="362.0" y="239.7" font-size="2.7" fill="#555" textLength="5.6" lengthAdjust="spacingAndGlyphs">+0.00</text>
<line x1="613.7" y1="240.5" x2="627.5" y2="240.5" stroke="#333" stroke-width="0.8" /><circle cx="613.7" cy="240.5" r="2.1" fill="#fff" stroke="#000" stroke-width="0.7"/><path d="M613.7,240.5 L613.7,238.4 A2.1,2.1 0 0 1 615.8000000000001,240.5 Z" fill="#000"/><path d="M613.7,240.5 L613.7,242.6 A2.1,2.1 0 0 1 611.6,240.5 Z" fill="#000"/><line x1="610.7" y1="240.5" x2="616.7" y2="240.5" stroke="#000" stroke-width="0.7" /><line x1="613.7" y1="237.5" x2="613.7" y2="243.5" stroke="#000" stroke-width="0.7" /><text x="618.9000000000001" y="239.7" font-size="2.7" fill="#555" textLength="5.6" lengthAdjust="spacingAndGlyphs">+0.00</text>
<line x1="319.3" y1="289.5" x2="333.0" y2="289.5" stroke="#333" stroke-width="0.8" /><circle cx="319.3" cy="289.5" r="2.1" fill="#fff" stroke="#000" stroke-width="0.7"/><path d="M319.3,289.5 L319.3,287.4 A2.1,2.1 0 0 1 321.40000000000003,289.5 Z" fill="#000"/><path d="M319.3,289.5 L319.3,291.6 A2.1,2.1 0 0 1 317.2,289.5 Z" fill="#000"/><line x1="316.3" y1="289.5" x2="322.3" y2="289.5" stroke="#000" stroke-width="0.7" /><line x1="319.3" y1="286.5" x2="319.3" y2="292.5" stroke="#000" stroke-width="0.7" /><text x="324.5" y="288.7" font-size="2.7" fill="#555" textLength="5.6" lengthAdjust="spacingAndGlyphs">+0.00</text>
<line x1="351.3" y1="311.5" x2="365.0" y2="311.5" stroke="#333" stroke-width="0.8" /><circle cx="351.3" cy="311.5" r="2.1" fill="#fff" stroke="#000" stroke-width="0.7"/><path d="M351.3,311.5 L351.3,309.4 A2.1,2.1 0 0 1 353.40000000000003,311.5 Z" fill="#000"/><path d="M351.3,311.5 L351.3,313.6 A2.1,2.1 0 0 1 349.2,311.5 Z" fill="#000"/><line x1="348.3" y1="311.5" x2="354.3" y2="311.5" stroke="#000" stroke-width="0.7" /><line x1="351.3" y1="308.5" x2="351.3" y2="314.5" stroke="#000" stroke-width="0.7" /><text x="356.5" y="310.7" font-size="2.7" fill="#555" textLength="5.6" lengthAdjust="spacingAndGlyphs">+0.00</text>
<line x1="242" y1="226.5" x2="256" y2="226.5" stroke="#333" stroke-width="0.8" /><circle cx="242" cy="226.5" r="2.1" fill="#fff" stroke="#000" stroke-width="0.7"/><path d="M242,226.5 L242,224.4 A2.1,2.1 0 0 1 244.1,226.5 Z" fill="#000"/><path d="M242,226.5 L242,228.6 A2.1,2.1 0 0 1 239.9,226.5 Z" fill="#000"/><line x1="239" y1="226.5" x2="245" y2="226.5" stroke="#000" stroke-width="0.7" /><line x1="242" y1="223.5" x2="242" y2="229.5" stroke="#000" stroke-width="0.7" /><text x="247.2" y="225.7" font-size="2.7" fill="#555" textLength="5.6" lengthAdjust="spacingAndGlyphs">+0.00</text>
<line x1="484.5" y1="158.5" x2="498.2" y2="158.5" stroke="#333" stroke-width="0.8" /><circle cx="484.5" cy="158.5" r="2.1" fill="#fff" stroke="#000" stroke-width="0.7"/><path d="M484.5,158.5 L484.5,156.4 A2.1,2.1 0 0 1 486.6,158.5 Z" fill="#000"/><path d="M484.5,158.5 L484.5,160.6 A2.1,2.1 0 0 1 482.4,158.5 Z" fill="#000"/><line x1="481.5" y1="158.5" x2="487.5" y2="158.5" stroke="#000" stroke-width="0.7" /><line x1="484.5" y1="155.5" x2="484.5" y2="161.5" stroke="#000" stroke-width="0.7" /><text x="489.7" y="157.7" font-size="2.7" fill="#555" textLength="5.6" lengthAdjust="spacingAndGlyphs">+0.00</text>
<line x1="426.6" y1="172.5" x2="440.0" y2="172.5" stroke="#333" stroke-width="0.8" /><circle cx="426.6" cy="172.5" r="2.1" fill="#fff" stroke="#000" stroke-width="0.7"/><path d="M426.6,172.5 L426.6,170.4 A2.1,2.1 0 0 1 428.70000000000005,172.5 Z" fill="#000"/><path d="M426.6,172.5 L426.6,174.6 A2.1,2.1 0 0 1 424.5,172.5 Z" fill="#000"/><line x1="423.6" y1="172.5" x2="429.6" y2="172.5" stroke="#000" stroke-width="0.7" /><line x1="426.6" y1="169.5" x2="426.6" y2="175.5" stroke="#000" stroke-width="0.7" /><text x="431.8" y="171.7" font-size="2.7" fill="#555" textLength="5.6" lengthAdjust="spacingAndGlyphs">+0.00</text>
<line x1="529" y1="172.5" x2="542.7" y2="172.5" stroke="#333" stroke-width="0.8" /><circle cx="529" cy="172.5" r="2.1" fill="#fff" stroke="#000" stroke-width="0.7"/><path d="M529,172.5 L529,170.4 A2.1,2.1 0 0 1 531.1,172.5 Z" fill="#000"/><path d="M529,172.5 L529,174.6 A2.1,2.1 0 0 1 526.9,172.5 Z" fill="#000"/><line x1="526" y1="172.5" x2="532" y2="172.5" stroke="#000" stroke-width="0.7" /><line x1="529" y1="169.5" x2="529" y2="175.5" stroke="#000" stroke-width="0.7" /><text x="534.2" y="171.7" font-size="2.7" fill="#555" textLength="5.6" lengthAdjust="spacingAndGlyphs">+0.00</text>
<line x1="436.2" y1="245.5" x2="449.9" y2="245.5" stroke="#333" stroke-width="0.8" /><circle cx="436.2" cy="245.5" r="2.1" fill="#fff" stroke="#000" stroke-width="0.7"/><path d="M436.2,245.5 L436.2,243.4 A2.1,2.1 0 0 1 438.3,245.5 Z" fill="#000"/><path d="M436.2,245.5 L436.2,247.6 A2.1,2.1 0 0 1 434.09999999999997,245.5 Z" fill="#000"/><line x1="433.2" y1="245.5" x2="439.2" y2="245.5" stroke="#000" stroke-width="0.7" /><line x1="436.2" y1="242.5" x2="436.2" y2="248.5" stroke="#000" stroke-width="0.7" /><text x="441.4" y="244.7" font-size="2.7" fill="#555" textLength="5.6" lengthAdjust="spacingAndGlyphs">+0.00</text>
<line x1="535.4" y1="245.5" x2="548.8" y2="245.5" stroke="#333" stroke-width="0.8" /><circle cx="535.4" cy="245.5" r="2.1" fill="#fff" stroke="#000" stroke-width="0.7"/><path d="M535.4,245.5 L535.4,243.4 A2.1,2.1 0 0 1 537.5,245.5 Z" fill="#000"/><path d="M535.4,245.5 L535.4,247.6 A2.1,2.1 0 0 1 533.3,245.5 Z" fill="#000"/><line x1="532.4" y1="245.5" x2="538.4" y2="245.5" stroke="#000" stroke-width="0.7" /><line x1="535.4" y1="242.5" x2="535.4" y2="248.5" stroke="#000" stroke-width="0.7" /><text x="540.6" y="244.7" font-size="2.7" fill="#555" textLength="5.6" lengthAdjust="spacingAndGlyphs">+0.00</text>
<line x1="658.8" y1="288.5" x2="672.8" y2="288.5" stroke="#333" stroke-width="0.8" /><circle cx="658.8" cy="288.5" r="2.1" fill="#fff" stroke="#000" stroke-width="0.7"/><path d="M658.8,288.5 L658.8,286.4 A2.1,2.1 0 0 1 660.9,288.5 Z" fill="#000"/><path d="M658.8,288.5 L658.8,290.6 A2.1,2.1 0 0 1 656.6999999999999,288.5 Z" fill="#000"/><line x1="655.8" y1="288.5" x2="661.8" y2="288.5" stroke="#000" stroke-width="0.7" /><line x1="658.8" y1="285.5" x2="658.8" y2="291.5" stroke="#000" stroke-width="0.7" /><text x="664.0" y="287.7" font-size="2.7" fill="#555" textLength="5.6" lengthAdjust="spacingAndGlyphs">+0.00</text>
<line x1="648.3" y1="312.5" x2="662.0999999999999" y2="312.5" stroke="#333" stroke-width="0.8" /><circle cx="648.3" cy="312.5" r="2.1" fill="#fff" stroke="#000" stroke-width="0.7"/><path d="M648.3,312.5 L648.3,310.4 A2.1,2.1 0 0 1 650.4,312.5 Z" fill="#000"/><path d="M648.3,312.5 L648.3,314.6 A2.1,2.1 0 0 1 646.1999999999999,312.5 Z" fill="#000"/><line x1="645.3" y1="312.5" x2="651.3" y2="312.5" stroke="#000" stroke-width="0.7" /><line x1="648.3" y1="309.5" x2="648.3" y2="315.5" stroke="#000" stroke-width="0.7" /><text x="653.5" y="311.7" font-size="2.7" fill="#555" textLength="5.6" lengthAdjust="spacingAndGlyphs">+0.00</text>
<line x1="732.3" y1="226.5" x2="746.0" y2="226.5" stroke="#333" stroke-width="0.8" /><circle cx="732.3" cy="226.5" r="2.1" fill="#fff" stroke="#000" stroke-width="0.7"/><path d="M732.3,226.5 L732.3,224.4 A2.1,2.1 0 0 1 734.4,226.5 Z" fill="#000"/><path d="M732.3,226.5 L732.3,228.6 A2.1,2.1 0 0 1 730.1999999999999,226.5 Z" fill="#000"/><line x1="729.3" y1="226.5" x2="735.3" y2="226.5" stroke="#000" stroke-width="0.7" /><line x1="732.3" y1="223.5" x2="732.3" y2="229.5" stroke="#000" stroke-width="0.7" /><text x="737.5" y="225.7" font-size="2.7" fill="#555" textLength="5.6" lengthAdjust="spacingAndGlyphs">+0.00</text>
<text x="337.90000000000003" y="117.9" font-size="3.8" fill="#777" stroke="#777" stroke-width="0.133" text-anchor="middle" textLength="1.8" lengthAdjust="spacingAndGlyphs" >B</text>
<text x="337.90000000000003" y="358.7" font-size="3.8" fill="#888" stroke="#888" stroke-width="0.133" text-anchor="middle" textLength="1.8" lengthAdjust="spacingAndGlyphs" >B</text>
<text x="633.6" y="117.9" font-size="3.8" fill="#777" stroke="#777" stroke-width="0.133" text-anchor="middle" textLength="1.8" lengthAdjust="spacingAndGlyphs" >C</text>
<text x="633.6" y="358.7" font-size="3.8" fill="#888" stroke="#888" stroke-width="0.133" text-anchor="middle" textLength="1.8" lengthAdjust="spacingAndGlyphs" >C</text>
<text x="200.4" y="213.7" font-size="3.6" fill="#888" stroke="#888" stroke-width="0.126" text-anchor="middle" textLength="1.8" lengthAdjust="spacingAndGlyphs" >A</text>
<text x="788.2" y="213.7" font-size="3.6" fill="#888" stroke="#888" stroke-width="0.126" text-anchor="middle" textLength="1.8" lengthAdjust="spacingAndGlyphs" >A</text>
<text x="344.5" y="174.6" font-size="3.4" fill="#555" stroke="#555" stroke-width="0.119" text-anchor="middle" textLength="15" lengthAdjust="spacingAndGlyphs" >LIFTS ROOM</text>
<text x="641.5" y="174.6" font-size="3.4" fill="#555" stroke="#555" stroke-width="0.119" text-anchor="middle" textLength="15" lengthAdjust="spacingAndGlyphs" >LIFTS ROOM</text>
<text x="342.3" y="209.9" font-size="3.0" fill="#666" stroke="#666" stroke-width="0.105" text-anchor="middle" textLength="4.4" lengthAdjust="spacingAndGlyphs" >LIFT</text>
<text x="639" y="209.9" font-size="3.0" fill="#666" stroke="#666" stroke-width="0.105" text-anchor="middle" textLength="4.4" lengthAdjust="spacingAndGlyphs" >LIFT</text>
<text x="318.5" y="210.9" font-size="3.3" fill="#333" stroke="#333" stroke-width="0.116" text-anchor="middle" textLength="5.6" lengthAdjust="spacingAndGlyphs" >EXIT</text>
<text x="368.2" y="210.9" font-size="3.3" fill="#333" stroke="#333" stroke-width="0.116" text-anchor="middle" textLength="5.6" lengthAdjust="spacingAndGlyphs" >EXIT</text>
<text x="662.5" y="210.9" font-size="3.3" fill="#333" stroke="#333" stroke-width="0.116" text-anchor="middle" textLength="5.6" lengthAdjust="spacingAndGlyphs" >EXIT</text>
<text x="612.8" y="210.9" font-size="3.3" fill="#333" stroke="#333" stroke-width="0.116" text-anchor="middle" textLength="5.6" lengthAdjust="spacingAndGlyphs" >EXIT</text>
<text x="321" y="239.1" font-size="3.4" fill="#444" stroke="#444" stroke-width="0.119" text-anchor="middle" textLength="24" lengthAdjust="spacingAndGlyphs" >MECHANICAL ROOM</text>
<text x="664.2" y="239.1" font-size="3.4" fill="#444" stroke="#444" stroke-width="0.119" text-anchor="middle" textLength="24.5" lengthAdjust="spacingAndGlyphs" >MECHANICAL ROOM</text>
<text x="367.7" y="250.8" font-size="3.2" fill="#555" stroke="#555" stroke-width="0.112" text-anchor="middle" textLength="11.5" lengthAdjust="spacingAndGlyphs" >STORAGE</text>
<text x="366.5" y="254.3" font-size="3.2" fill="#555" stroke="#555" stroke-width="0.112" text-anchor="middle" textLength="5.4" lengthAdjust="spacingAndGlyphs" >ATTIC</text>
<text x="618.2" y="250.8" font-size="3.2" fill="#555" stroke="#555" stroke-width="0.112" text-anchor="middle" textLength="11.5" lengthAdjust="spacingAndGlyphs" >STORAGE</text>
<text x="617" y="254.3" font-size="3.2" fill="#555" stroke="#555" stroke-width="0.112" text-anchor="middle" textLength="5.4" lengthAdjust="spacingAndGlyphs" >ATTIC</text>
<text x="364.6" y="233" font-size="4.8" fill="#222" stroke="#222" stroke-width="0.168" text-anchor="middle" textLength="5.8" lengthAdjust="spacingAndGlyphs" >4.75</text>
<text x="617.6" y="233" font-size="4.8" fill="#222" stroke="#222" stroke-width="0.168" text-anchor="middle" textLength="5.8" lengthAdjust="spacingAndGlyphs" >4.75</text>
<text x="347.5" y="255.5" font-size="4.8" fill="#333" stroke="#333" stroke-width="0.168" text-anchor="middle" textLength="6" lengthAdjust="spacingAndGlyphs" >6.70</text>
<text x="633.4" y="255.5" font-size="4.8" fill="#333" stroke="#333" stroke-width="0.168" text-anchor="middle" textLength="6" lengthAdjust="spacingAndGlyphs" >6.70</text>
<text x="332.2" y="378.1" font-size="8" fill="#333" text-anchor="start" textLength="21.3" lengthAdjust="spacingAndGlyphs" >BLOCK A</text>
<text x="631" y="378.1" font-size="8" fill="#333" text-anchor="start" textLength="22.2" lengthAdjust="spacingAndGlyphs" >BLOCK B</text>
</g>
</g></svg></body></html>
